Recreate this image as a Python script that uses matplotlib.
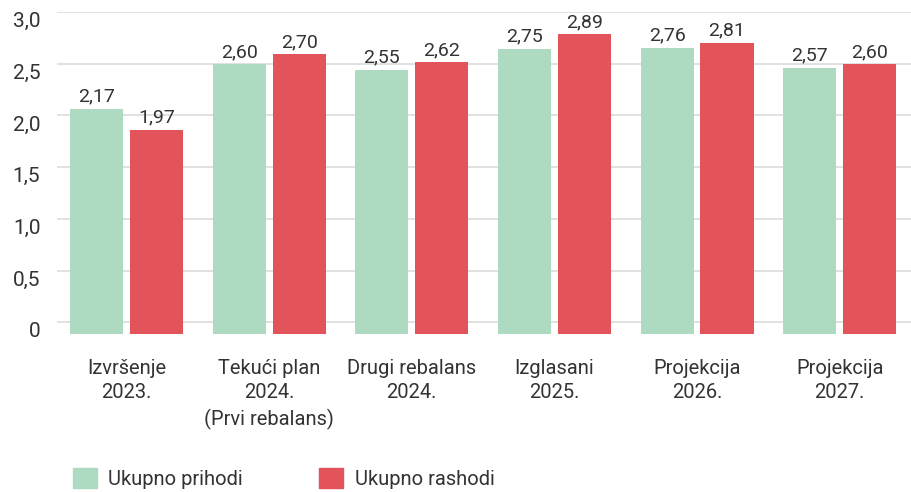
import matplotlib
matplotlib.use("Agg")
import numpy as np
from matplotlib import pyplot as plt
from matplotlib.patches import Patch

categories = ["Izvršenje\n2023.", "Tekući plan\n2024.\n(Prvi rebalans)", "Drugi rebalans\n2024.",
              "Izglasani\n2025.", "Projekcija\n2026.", "Projekcija\n2027."]
prihodi = [2.17, 2.60, 2.55, 2.75, 2.76, 2.57]
rashodi = [1.97, 2.70, 2.62, 2.89, 2.81, 2.60]
yticks = [0, 0.5, 1.0, 1.5, 2.0, 2.5, 3.0]
ytick_labels = ["0", "0,5", "1,0", "1,5", "2,0", "2,5", "3,0"]

green = "#addac0"
red = "#e2535a"
txt = "#333333"

plt.rcParams['font.family'] = ['Roboto', 'DejaVu Sans']

fig = plt.figure(figsize=(9.11, 4.92), dpi=100)
ax = fig.add_axes([57 / 911, 1 - 333.5 / 492, 1 - 57 / 911, (333.5 - 12) / 492])

x = np.arange(len(categories))
w = 0.372
off = 0.21
base = -0.107
b1 = ax.bar(x - off, prihodi, w, bottom=base, color=green, zorder=3, label="Ukupno prihodi")
b2 = ax.bar(x + off, rashodi, w, bottom=base, color=red, zorder=3, label="Ukupno rashodi")

for bars, vals in [(b1, prihodi), (b2, rashodi)]:
    for b, v in zip(bars, vals):
        ax.text(b.get_x() + b.get_width() / 2, v + base + 0.03, f"{v:.2f}".replace(".", ","),
                ha="center", va="bottom", fontsize=14, color=txt)

ax.set_xlim(-0.487, 5.5)
ax.set_ylim(base, 3.0)
ax.set_yticks(yticks, ytick_labels)
ax.set_xticks(x, categories)
for lbl in ax.get_yticklabels():
    lbl.set_va("top")
ax.tick_params(axis="y", length=0, pad=12, labelsize=15, labelcolor=txt)
ax.tick_params(axis="x", length=0, pad=18, labelsize=14.5, labelcolor=txt)
for lbl in ax.get_xticklabels():
    lbl.set_linespacing(1.4)
ax.grid(axis="y", color="#d9d9d9", linewidth=1.1, zorder=0)
ax.set_axisbelow(True)
for s in ax.spines.values():
    s.set_visible(False)

handles = [Patch(color=green, label="Ukupno prihodi"), Patch(color=red, label="Ukupno rashodi")]
fig.legend(handles=handles, loc="lower left", bbox_to_anchor=(0.06, -0.03), ncol=2, frameon=False,
           fontsize=14.5, handlelength=1.2, handleheight=1.2, handletextpad=0.55, columnspacing=3.8,
           labelcolor=txt)

fig.savefig("out.png", dpi=100)
